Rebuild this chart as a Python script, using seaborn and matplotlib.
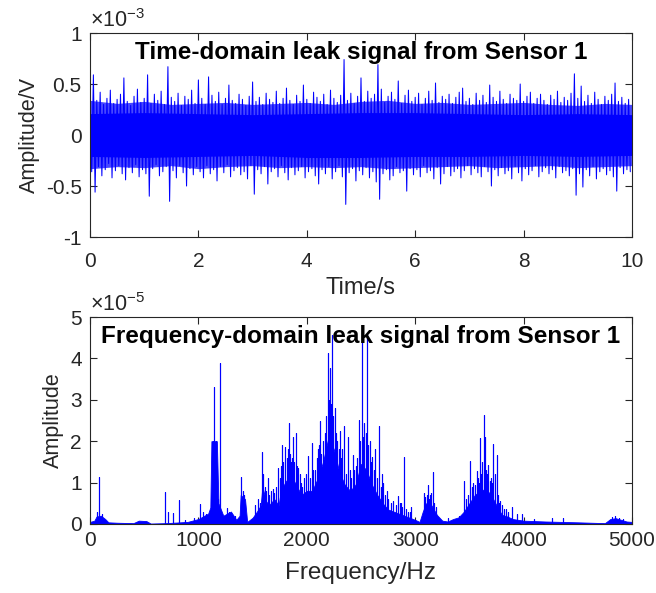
import numpy as np
import pandas as pd
import seaborn as sns
import matplotlib
matplotlib.use("Agg")
import matplotlib.pyplot as plt
from matplotlib.ticker import FuncFormatter

# ---- time-domain signal: positive / negative peaks (x1e-5 V), 16 per second
upper = [38, 59, 34, 42, 30, 36, 44, 31, 35, 40, 56, 33, 29, 38, 45, 32,
         36, 59, 31, 40, 34, 43, 30, 67, 37, 33, 41, 29, 38, 35, 44, 31,
         54, 36, 30, 57, 39, 33, 42, 30, 36, 49, 34, 31, 40, 35, 29, 38,
         52, 33, 37, 30, 41, 35, 32, 43, 31, 36, 46, 34, 30, 39, 33, 49,
         35, 31, 42, 37, 33, 40, 30, 44, 36, 32, 39, 74, 34, 41, 31, 38,
         56, 33, 43, 36, 40, 69, 45, 32, 38, 42, 35, 53, 31, 39, 44, 33,
         37, 41, 30, 36, 43, 34, 51, 32, 38, 35, 40, 31, 37, 42, 46, 33,
         36, 30, 41, 34, 39, 32, 49, 37, 33, 43, 35, 31, 40, 36, 34, 50,
         33, 38, 42, 31, 36, 40, 34, 30, 39, 35, 43, 32, 37, 34, 41, 60,
         36, 48, 33, 39, 31, 42, 35, 30, 38, 34, 40, 51, 33, 37, 31, 35]
lower = [-36, -56, -31, -40, -34, -28, -42, -35, -30, -38, -44, -32, -37, -29, -41, -34,
         -38, -60, -33, -29, -40, -36, -31, -65, -35, -42, -30, -37, -50, -33, -39, -31,
         -36, -42, -30, -38, -34, -45, -31, -37, -29, -41, -35, -32, -39, -36, -43, -30,
         -58, -34, -38, -31, -48, -36, -33, -41, -30, -37, -44, -32, -39, -35, -31, -42,
         -36, -33, -40, -48, -34, -38, -31, -43, -36, -30, -41, -68, -37, -33, -45, -35,
         -39, -32, -42, -36, -46, -63, -38, -34, -44, -40, -31, -37, -35, -55, -33, -39,
         -34, -41, -30, -37, -35, -43, -32, -48, -38, -31, -40, -36, -33, -42, -35, -30,
         -39, -33, -37, -41, -31, -36, -50, -34, -40, -32, -38, -35, -43, -31, -37, -45,
         -33, -39, -35, -30, -41, -36, -32, -38, -34, -42, -31, -37, -35, -40, -33, -59,
         -38, -51, -34, -40, -31, -43, -36, -33, -39, -35, -41, -55, -32, -38, -34, -36]
# dense core of the band (x1e-5 V), one value per second
core_hi = [21, 22, 21, 20, 21, 22, 22, 21, 20, 21, 20]
core_lo = [-21, -22, -21, -20, -22, -22, -21, -21, -20, -21, -20]
# fuzzy outer edge of the band (x1e-5 V), two values per second
fuzz_hi = [34, 31, 33, 30, 31, 32, 30, 31, 32, 30, 33, 34, 31, 32, 30, 31, 32, 30, 29, 31, 30]
fuzz_lo = [-33, -31, -32, -30, -33, -31, -30, -32, -31, -32, -31, -33, -32, -31, -30, -32,
           -31, -30, -32, -31, -30]

# ---- frequency-domain spectrum (x1e-5)
env_freq = [0, 40, 60, 100, 140, 170, 250, 400, 450, 520, 560, 700, 900, 1000, 1090,
            1110, 1120, 1170, 1185, 1230, 1300, 1350, 1380, 1390, 1430, 1450, 1500,
            1540, 1575, 1590, 1625, 1650, 1700, 1740, 1760, 1800, 1850, 1900, 1950,
            2000, 2050, 2100, 2150, 2200, 2250, 2300, 2350, 2400, 2450, 2500, 2550,
            2600, 2650, 2700, 2750, 2800, 2850, 2900, 2950, 3000, 3040, 3070, 3100,
            3150, 3200, 3250, 3300, 3350, 3400, 3450, 3500, 3550, 3600, 3650, 3700,
            3750, 3800, 3850, 3900, 4000, 4200, 4500, 4750, 4800, 4850, 4900, 4950, 5000]
env_amp = [0.05, 0.08, 0.18, 0.2, 0.12, 0.04, 0.03, 0.02, 0.08, 0.07, 0.01, 0.02, 0.05,
           0.12, 0.25, 0.4, 2.0, 2.0, 0.5, 0.2, 0.3, 0.1, 0.2, 0.7, 0.6, 0.05, 0.15,
           0.3, 0.45, 0.9, 0.55, 0.45, 0.6, 0.45, 0.8, 1.0, 1.2, 0.95, 0.7, 0.8, 0.8, 1.1,
           1.5, 2.1, 1.8, 1.25, 0.95, 0.8, 0.95, 1.45, 1.3, 0.95, 0.7, 0.5, 0.35, 0.3, 0.25,
           0.2, 0.15, 0.1, 0.05, 0.3, 0.5, 0.45, 0.22, 0.08, 0.06, 0.12, 0.16, 0.3,
           0.5, 0.7, 0.8, 0.85, 0.7, 0.45, 0.22, 0.18, 0.12, 0.08, 0.06, 0.04, 0.02, 0.12,
           0.14, 0.1, 0.06, 0.05]
spike_freq = [60, 83, 110, 692, 720, 766, 821, 876, 960, 1015, 1040, 1070, 1132, 1145,
              1160, 1185, 1200, 1260, 1280, 1340, 1393, 1410, 1420, 1583, 1600, 1638,
              1670, 1700, 1735, 1774, 1795, 1836, 1855, 1876, 1897, 1920, 1950, 1975,
              2012, 2045, 2080, 2100, 2122, 2150, 2168, 2192, 2214, 2235, 2260, 2280,
              2306, 2325, 2347, 2383, 2400, 2423, 2450, 2479, 2507, 2532, 2553, 2580,
              2606, 2631, 2666, 2690, 2706, 2752, 2798, 2845, 2870, 2897, 2930, 2965,
              3080, 3117, 3140, 3163, 3190, 3300, 3400, 3450, 3487, 3506, 3537, 3567,
              3585, 3598, 3620, 3635, 3644, 3660, 3675, 3700, 3721, 3752, 3770, 3798,
              3840, 3890, 3940, 3982, 4100, 4260, 4367, 4813, 4844, 4880, 4920,
              1520, 1550, 1565, 1610, 1625, 1655, 1685, 1715, 1750, 1760, 1785, 1815,
              1825, 1845, 1865, 1885, 1910, 1935, 1960, 1990, 2025, 2060, 2090, 2110,
              2135, 2180, 2205, 2225, 2245, 2270, 2295, 2315, 2340, 2365, 2410, 2435,
              2465, 2490, 2520, 2545, 2565, 2595, 2620, 2645, 2680, 2720, 2740, 2780,
              2820, 2860, 2880, 2915, 2950, 3090, 3105, 3130, 3150, 3175, 3470, 3520,
              3555, 3580, 3610, 3655, 3690, 3710, 3735, 3760, 3780, 3820, 3860]
spike_amp = [0.3, 1.14, 0.25, 0.78, 0.3, 0.27, 0.58, 0.1, 0.15, 0.48, 0.3, 0.25, 2.0, 3.32,
             2.0, 0.6, 3.88, 0.38, 0.3, 0.2, 1.14, 0.8, 0.7, 1.75, 1.2, 1.1,
             0.8, 0.75, 1.35, 1.9, 1.87, 2.43, 1.5, 2.09, 2.19, 1.35, 1.0, 1.1,
             1.65, 1.95, 1.3, 1.8, 2.49, 2.0, 2.2, 4.14, 3.76, 4.56, 2.8, 2.0,
             2.24, 1.8, 2.36, 2.1, 1.3, 1.67, 1.4, 2.5, 4.65, 2.45, 4.58, 2.0,
             1.62, 1.8, 2.36, 1.2, 1.0, 0.6, 0.56, 0.68, 0.5, 1.62, 0.3, 0.4,
             0.76, 0.93, 0.7, 1.26, 0.4, 0.15, 0.2, 1.05, 0.7, 1.53, 1.0, 1.28,
             1.0, 2.07, 1.5, 2.63, 2.1, 1.2, 1.43, 1.1, 1.93, 1.67, 0.5, 0.45,
             0.35, 0.42, 0.25, 0.25, 0.12, 0.15, 0.15, 0.17, 0.19, 0.14, 0.12,
             0.45, 0.6, 0.5, 0.9, 0.8, 0.7, 0.85, 0.9, 1.1, 1.4, 1.5, 1.6,
             1.8, 1.7, 1.6, 1.5, 1.4, 1.2, 0.9, 1.2, 1.1, 1.3, 1.6, 1.9,
             1.7, 2.6, 3.0, 2.9, 2.6, 2.2, 1.8, 1.6, 1.4, 1.2, 1.1, 1.3,
             1.6, 2.0, 2.1, 2.2, 1.9, 1.5, 1.3, 1.1, 0.9, 0.7, 0.8, 0.5,
             0.45, 0.5, 0.4, 0.35, 0.3, 0.65, 0.7, 0.6, 0.75, 0.5, 0.6, 0.9,
             0.95, 1.1, 1.2, 1.3, 1.05, 1.0, 1.2, 0.7, 0.55, 0.35, 0.3]

sns.set_style("ticks")
plt.rcParams["font.family"] = ["Liberation Sans", "DejaVu Sans"]
plt.rcParams["mathtext.default"] = "regular"
plt.rcParams["axes.unicode_minus"] = False

BLUE = "#0000ff"
EDGE = "#262626"

fig = plt.figure(figsize=(6.56, 5.93), dpi=100)
ax1 = fig.add_axes([0.1372, 0.6003, 0.8262, 0.344])
ax2 = fig.add_axes([0.1372, 0.1164, 0.8262, 0.349])

# time-domain: zigzag between positive and negative peaks (to x1e-3 V)
n = len(upper)
t = np.linspace(0, 10, n, endpoint=False)
step = 10 / n
tt = np.column_stack([t, t + step / 2]).ravel()
yy = np.column_stack([np.array(upper) / 100, np.array(lower) / 100]).ravel()
sig = pd.DataFrame({"t": tt, "amp": yy})
t_fuzz = np.linspace(0, 10, len(fuzz_hi))
ax1.fill_between(t_fuzz, np.array(fuzz_lo) / 100, np.array(fuzz_hi) / 100,
                 color=BLUE, alpha=0.72, lw=0)
t_core = np.linspace(0, 10, len(core_hi))
ax1.fill_between(t_core, np.array(core_lo) / 100, np.array(core_hi) / 100,
                 color=BLUE, lw=0)
sns.lineplot(data=sig, x="t", y="amp", ax=ax1, sort=False, estimator=None,
             color=BLUE, lw=0.75)

# frequency-domain: filled base plus spectral spikes
ax2.fill_between(env_freq, 0, env_amp, color=BLUE, lw=0.6, edgecolor=BLUE)
order = np.argsort(spike_freq)
sfreq = np.array(spike_freq)[order]
samp = np.array(spike_amp)[order]
sf = np.repeat(sfreq, 3)
sa = np.column_stack([np.zeros(len(samp)), samp, np.zeros(len(samp))]).ravel()
spec = pd.DataFrame({"f": sf, "amp": sa})
sns.lineplot(data=spec, x="f", y="amp", ax=ax2, sort=False, estimator=None,
             color=BLUE, lw=0.8)

fmt = FuncFormatter(lambda v, p: f"{v:g}")
for ax in (ax1, ax2):
    for s in ax.spines.values():
        s.set_visible(True)
        s.set_color(EDGE)
        s.set_linewidth(0.8)
    ax.tick_params(direction="in", top=True, right=True, length=5, width=0.8,
                   color=EDGE, labelsize=15, labelcolor=EDGE, pad=6)
    ax.yaxis.set_major_formatter(fmt)
    ax.xaxis.set_major_formatter(fmt)
ax1.tick_params(axis="x", pad=11)
ax2.tick_params(axis="x", pad=5)

ax1.set_xlim(0, 10)
ax1.set_ylim(-1, 1)
ax1.set_xticks([0, 2, 4, 6, 8, 10])
ax1.set_yticks([-1, -0.5, 0, 0.5, 1])
ax1.set_xlabel("Time/s", fontsize=17, color=EDGE, labelpad=4)
ax1.set_ylabel("Amplitude/V", fontsize=15.5, color=EDGE, labelpad=4)
ax1.text(0.5, 0.905, "Time-domain leak signal from Sensor 1", transform=ax1.transAxes,
         ha="center", va="center", fontsize=17.5, fontweight="bold", color="black")
ax1.text(0.0, 1.005, r"$\times10^{-3}$", transform=ax1.transAxes, ha="left",
         va="bottom", fontsize=15.5, color=EDGE)

ax2.set_xlim(0, 5000)
ax2.set_ylim(0, 5)
ax2.set_xticks([0, 1000, 2000, 3000, 4000, 5000])
ax2.set_yticks([0, 1, 2, 3, 4, 5])
ax2.set_xlabel("Frequency/Hz", fontsize=17.5, color=EDGE, labelpad=9)
ax2.set_ylabel("Amplitude", fontsize=15.5, color=EDGE, labelpad=4)
ax2.text(0.5, 0.905, "Frequency-domain leak signal from Sensor 1", transform=ax2.transAxes,
         ha="center", va="center", fontsize=17.5, fontweight="bold", color="black")
ax2.text(0.0, 1.005, r"$\times10^{-5}$", transform=ax2.transAxes, ha="left",
         va="bottom", fontsize=15.5, color=EDGE)

fig.savefig("out.png", dpi=100, facecolor="white")
